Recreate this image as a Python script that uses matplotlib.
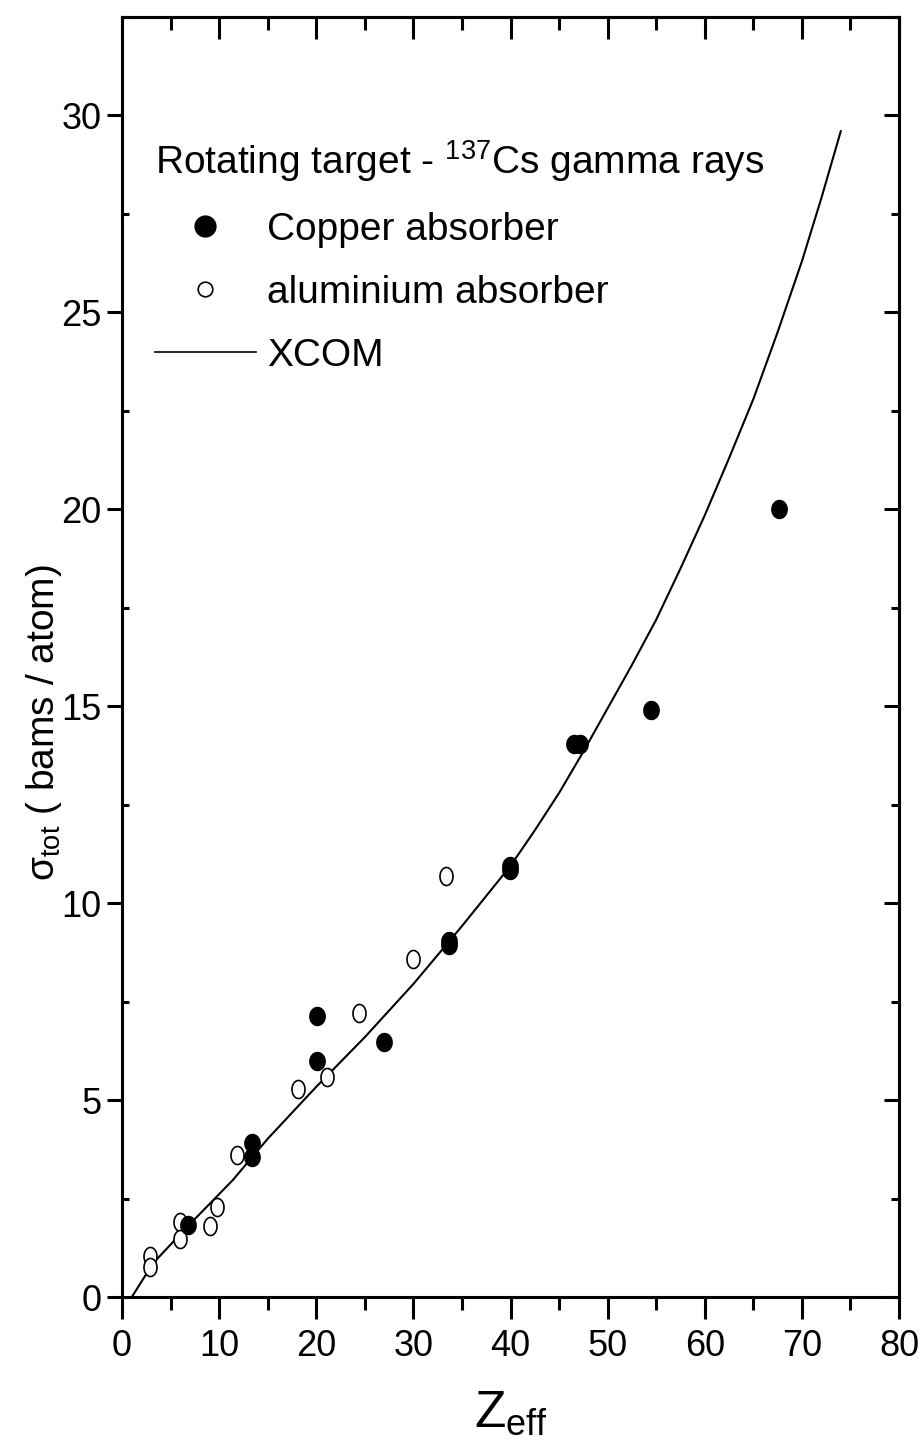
import numpy as np
import matplotlib
matplotlib.use('Agg')
import matplotlib.pyplot as plt
from matplotlib.lines import Line2D
from matplotlib.ticker import MultipleLocator

plt.rcParams['font.family'] = ['Liberation Sans Narrow', 'Liberation Sans', 'DejaVu Sans']
plt.rcParams['mathtext.fontset'] = 'custom'
plt.rcParams['mathtext.rm'] = 'Liberation Sans'
plt.rcParams['mathtext.it'] = 'Liberation Sans'
plt.rcParams['mathtext.default'] = 'regular'

# copper absorber (filled symbols)
cu_z = [6.8, 13.4, 13.4, 20.1, 20.1, 27.0, 33.7, 33.7, 39.9, 39.9, 46.5, 47.2, 54.5, 67.6]
cu_sigma = [1.83, 3.9, 3.55, 7.13, 6.0, 6.47, 9.05, 8.95, 10.95, 10.85, 14.04, 14.04, 14.9, 20.0]

# aluminium absorber (open symbols)
al_z = [2.9, 2.9, 6.0, 6.0, 9.1, 9.8, 11.8, 18.1, 21.1, 24.4, 30.0, 33.4]
al_sigma = [1.04, 0.76, 1.9, 1.47, 1.8, 2.28, 3.6, 5.28, 5.6, 7.2, 8.58, 10.7]

# XCOM curve
xcom_z = [1.0, 3.2, 6.7, 11.4, 15, 20, 25, 30, 35, 40, 42.5, 45, 47.5, 50, 52.5, 55,
          57.5, 60, 62.5, 65, 67.5, 70, 72, 74]
xcom_sigma = [0.0, 0.86, 1.78, 2.97, 4.02, 5.34, 6.6, 7.95, 9.42, 10.95, 11.85, 12.8,
              13.85, 14.95, 16.05, 17.2, 18.5, 19.85, 21.3, 22.8, 24.5, 26.3, 27.9, 29.6]

t = np.linspace(0, 2 * np.pi, 60)
ell_fill = list(zip(0.85 * np.cos(t), np.sin(t)))
ell_open = list(zip(0.72 * np.cos(t), np.sin(t)))

fig = plt.figure(figsize=(9.19, 14.52), dpi=100)
ax = fig.add_axes([0.1328, 0.1067, 0.8455, 0.8816])

ax.plot(xcom_z, xcom_sigma, color='k', lw=1.5, zorder=2)
ax.plot(al_z, al_sigma, ls='none', marker=ell_open, ms=13, mfc='white', mec='k', mew=1.2, zorder=3)
ax.plot(cu_z, cu_sigma, ls='none', marker=ell_fill, ms=13, mfc='k', mec='k', zorder=4)

ax.set_xlim(0, 80)
ax.set_ylim(0, 32.5)
ax.xaxis.set_major_locator(MultipleLocator(10))
ax.xaxis.set_minor_locator(MultipleLocator(5))
ax.yaxis.set_major_locator(MultipleLocator(5))
ax.yaxis.set_minor_locator(MultipleLocator(2.5))

for s in ax.spines.values():
    s.set_linewidth(2.2)

ax.tick_params(axis='x', which='major', direction='out', length=16, width=2.2, labelsize=26, pad=7)
ax.tick_params(axis='x', which='minor', direction='out', length=9, width=2.2)
ax.tick_params(axis='y', which='major', direction='out', length=11, width=2.2, labelsize=26, pad=4)
ax.tick_params(axis='y', which='minor', direction='in', length=5, width=2.2)

top = ax.secondary_xaxis('top')
top.xaxis.set_major_locator(MultipleLocator(10))
top.xaxis.set_minor_locator(MultipleLocator(5))
top.tick_params(which='major', direction='in', length=16, width=2.2, labeltop=False)
top.tick_params(which='minor', direction='in', length=9, width=2.2)
top.spines['top'].set_linewidth(2.2)

right = ax.secondary_yaxis('right')
right.yaxis.set_major_locator(MultipleLocator(5))
right.yaxis.set_minor_locator(MultipleLocator(2.5))
right.tick_params(which='major', direction='in', length=11, width=2.2, labelright=False)
right.tick_params(which='minor', direction='in', length=6, width=2.2)
right.spines['right'].set_linewidth(2.2)

ax.set_xlabel('Z$_{eff}$', fontsize=37, labelpad=18)
ax.set_ylabel(r'$\sigma_{tot}$ ( bams / atom)', fontsize=28)
ax.yaxis.set_label_coords(-0.075, 0.449)

handles = [
    Line2D([], [], ls='none', marker='o', ms=15, mfc='k', mec='k'),
    Line2D([], [], ls='none', marker='o', ms=10.5, mfc='white', mec='k', mew=1.2),
    Line2D([], [], color='k', lw=1.2),
]
labels = ['Copper absorber', 'aluminium absorber', 'XCOM']
leg = ax.legend(handles, labels, loc='upper left', bbox_to_anchor=(0.042, 0.905),
                frameon=False, fontsize=28, title='Rotating target - $^{137}$Cs gamma rays',
                title_fontsize=28, alignment='left', handlelength=2.6, handletextpad=0.3,
                labelspacing=0.7, borderpad=0, borderaxespad=0)

fig.savefig('out.png', dpi=100)
